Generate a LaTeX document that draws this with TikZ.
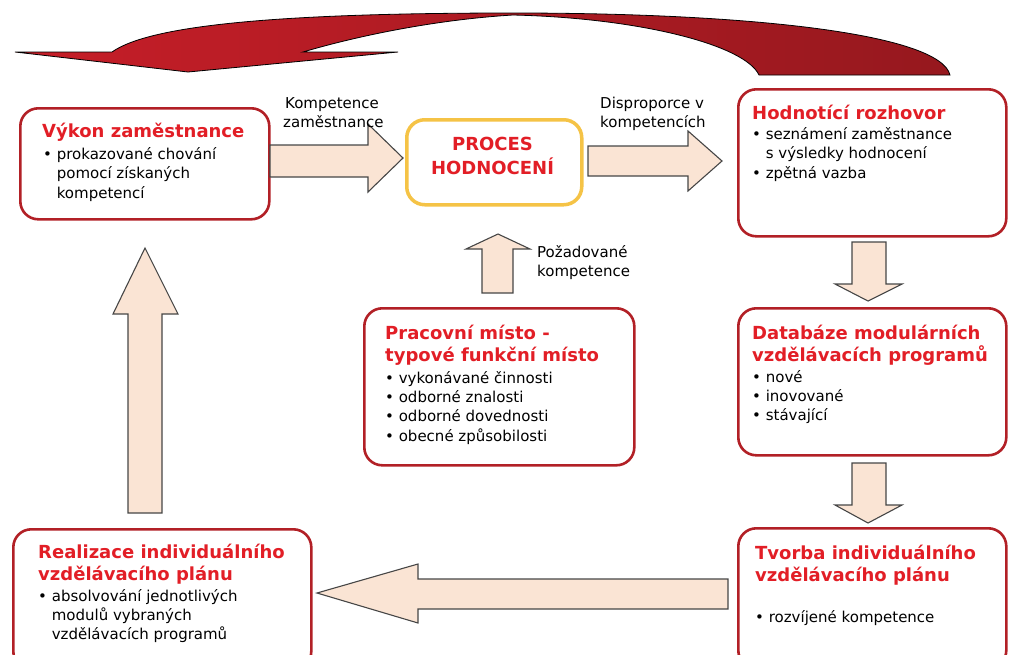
\documentclass[tikz,border=0pt]{standalone}
\usepackage{fontspec}
\setmainfont{DejaVu Sans}
\definecolor{boxred}{RGB}{178,32,38}
\definecolor{ttlred}{RGB}{226,30,38}
\definecolor{gold}{RGB}{245,195,70}
\definecolor{peach}{RGB}{250,228,212}
\definecolor{arrline}{RGB}{70,70,70}
\definecolor{arcL}{RGB}{198,30,40}
\definecolor{arcR}{RGB}{150,24,30}
\newcommand{\bul}{\textbullet\ }
\newcommand{\nob}{\phantom{\textbullet\ }}
\begin{document}
\begin{tikzpicture}[x=1pt,y=-1pt,
  box/.style={draw=boxred, line width=2.6pt, rounded corners=18pt, fill=white, anchor=north west, inner sep=0},
  ttl/.style={anchor=base west, inner sep=0, text=ttlred, font=\fontsize{18}{21}\selectfont\bfseries},
  txt/.style={anchor=base west, inner sep=0, font=\fontsize{15}{19}\selectfont},
  blk/.style={draw=arrline, line width=1.1pt, fill=peach, line join=miter}]
\useasboundingbox (0,0) rectangle (1009,654);

% red curved arrow
\draw[black, line width=0.8pt, left color=arcL, right color=arcR]
  (950,75) .. controls (940,35) and (760,13) .. (513,13)
  .. controls (280,13) and (150,25) .. (112,52)
  -- (15,52) -- (188,72) -- (398,52) -- (303,52)
  .. controls (350,38) and (430,20) .. (513,15)
  .. controls (640,18) and (745,45) .. (759,75) -- cycle;

% boxes
\node[box, minimum width=249pt, minimum height=111pt] (vykon) at (19,107) {};
\node[box, draw=gold, line width=3.5pt, minimum width=175pt, minimum height=85pt] (proces) at (405,118) {};
\node[box, minimum width=268pt, minimum height=147pt] (hodn) at (737,88) {};
\node[box, minimum width=268pt, minimum height=147pt] (datab) at (737,307) {};
\node[box, minimum width=268pt, minimum height=140pt] (tvorba) at (737,527) {};
\node[box, minimum width=270pt, minimum height=157pt] (prac) at (363,307) {};
\node[box, minimum width=298pt, minimum height=140pt] (realiz) at (12,528) {};

% block arrows
\draw[blk] (270,145) -- (368,145) -- (368,124) -- (403,158) -- (368,192) -- (368,177) -- (270,177) -- cycle;
\draw[blk] (588,146) -- (688,146) -- (688,131) -- (722,161) -- (688,191) -- (688,176) -- (588,176) -- cycle;
\draw[blk] (482,293) -- (482,249) -- (466,249) -- (498,234) -- (530,249) -- (513,249) -- (513,293) -- cycle;
\draw[blk] (852,242) -- (886,242) -- (886,284) -- (902,284) -- (868,301) -- (835,284) -- (852,284) -- cycle;
\draw[blk] (852,463) -- (886,463) -- (886,505) -- (902,505) -- (868,523) -- (835,505) -- (852,505) -- cycle;
\draw[blk] (728,579) -- (418,579) -- (418,564) -- (317,593) -- (418,623) -- (418,609) -- (728,609) -- cycle;
\draw[blk] (128,513) -- (128,314) -- (113,314) -- (145,248) -- (178,314) -- (162,314) -- (162,513) -- cycle;

% arrow labels
\node[txt] (k1) at (285,108) {Kompetence};
\node[txt] (k2) at (283,127) {zaměstnance};
\node[txt] (d1) at (600,108) {Disproporce v};
\node[txt] (d2) at (600,127) {kompetencích};
\node[txt] (p1) at (537,257) {Požadované};
\node[txt] (p2) at (537,276) {kompetence};

% Vykon
\node[ttl] (vt) at (42,137) {Výkon zaměstnance};
\node[txt] (v1) at (43,159) {\bul prokazované chování};
\node[txt] (v2) at (43,178.5) {\nob pomocí získaných};
\node[txt] (v3) at (43,198) {\nob kompetencí};

% Proces
\node[anchor=base, inner sep=0, text=ttlred, font=\fontsize{18}{21}\selectfont\bfseries] (pr1) at (492.5,150) {PROCES};
\node[anchor=base, inner sep=0, text=ttlred, font=\fontsize{18}{21}\selectfont\bfseries] (pr2) at (492.5,174) {HODNOCENÍ};

% Hodnotici
\node[ttl] (ht) at (752,119) {Hodnotící rozhovor};
\node[txt] (h1) at (752,139) {\bul seznámení zaměstnance};
\node[txt] (h2) at (752,158) {\nob s výsledky hodnocení};
\node[txt] (h3) at (752,178) {\bul zpětná vazba};

% Databaze
\node[ttl] (dt1) at (752,339) {Databáze modulárních};
\node[ttl] (dt2) at (752,361) {vzdělávacích programů};
\node[txt] (db1) at (752,382) {\bul nové};
\node[txt] (db2) at (752,401) {\bul inovované};
\node[txt] (db3) at (752,420) {\bul stávající};

% Pracovni
\node[ttl] (pt1) at (385,339) {Pracovní místo -};
\node[ttl] (pt2) at (385,361) {typové funkční místo};
\node[txt] (pb1) at (385,383) {\bul vykonávané činnosti};
\node[txt] (pb2) at (385,402) {\bul odborné znalosti};
\node[txt] (pb3) at (385,421) {\bul odborné dovednosti};
\node[txt] (pb4) at (385,441) {\bul obecné způsobilosti};

% Tvorba
\node[ttl] (tt1) at (755,559) {Tvorba individuálního};
\node[ttl] (tt2) at (755,581) {vzdělávacího plánu};
\node[txt] (tb1) at (755,622) {\bul rozvíjené kompetence};

% Realizace
\node[ttl] (rt1) at (38,558) {Realizace individuálního};
\node[ttl] (rt2) at (38,580) {vzdělávacího plánu};
\node[txt] (rb1) at (38,601) {\bul absolvování jednotlivých};
\node[txt] (rb2) at (38,620) {\nob modulů vybraných};
\node[txt] (rb3) at (38,639) {\nob vzdělávacích programů};
\end{tikzpicture}
\end{document}
